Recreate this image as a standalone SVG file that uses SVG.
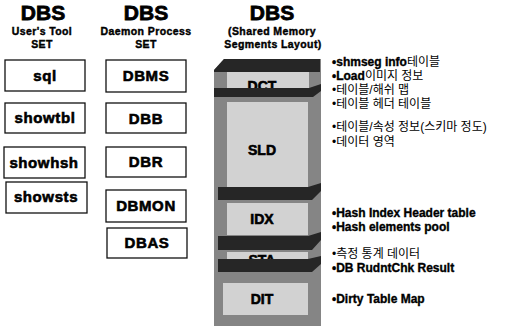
<svg xmlns="http://www.w3.org/2000/svg" width="507" height="329" viewBox="0 0 507 329">
<style>
text{font-family:"Liberation Sans","Noto Sans CJK KR",sans-serif;fill:#000}
.t{font-size:21px;font-weight:bold;text-anchor:middle;stroke:#000;stroke-width:0.8}
.s{font-size:10.5px;font-weight:bold;text-anchor:middle;stroke:#000;stroke-width:0.4;letter-spacing:0.4px}
.box{fill:#fff;stroke:#111;stroke-width:1.3}
.bl{font-size:15px;font-weight:bold;text-anchor:middle;stroke:#000;stroke-width:0.6;letter-spacing:0.6px}
.frame{fill:#858585}
.dark{fill:#262626}
.light{fill:#d2d2d2}
.seg{font-size:14px;font-weight:bold;text-anchor:middle;stroke:#000;stroke-width:0.6}
.r{font-size:12px}
.b{font-weight:bold;stroke:#000;stroke-width:0.35}
</style>
<g id="titles">
<text class="t" x="43" y="20">DBS</text>
<text class="s" x="42" y="35">User's Tool</text>
<text class="s" x="42" y="48">SET</text>
<text class="t" x="146" y="20">DBS</text>
<text class="s" x="146" y="35">Daemon Process</text>
<text class="s" x="146" y="48">SET</text>
<text class="t" x="272" y="20">DBS</text>
<text class="s" x="272" y="35">(Shared Memory</text>
<text class="s" x="273" y="48">Segments Layout)</text>
</g>
<g id="sql"><rect class="box" x="5" y="60" width="80" height="31"/><text class="bl" x="45" y="81">sql</text></g>
<g id="showtbl"><rect class="box" x="5" y="103" width="80" height="30"/><text class="bl" x="45" y="123">showtbl</text></g>
<g id="showhsh"><rect class="box" x="4" y="147" width="81" height="31"/><text class="bl" x="44" y="168">showhsh</text></g>
<g id="showsts"><rect class="box" x="6" y="182" width="81" height="31"/><text class="bl" x="46" y="202">showsts</text></g>
<g id="DBMS"><rect class="box" x="106" y="60" width="80" height="32"/><text class="bl" x="146" y="81">DBMS</text></g>
<g id="DBB"><rect class="box" x="106" y="103" width="80" height="30"/><text class="bl" x="146" y="124">DBB</text></g>
<g id="DBR"><rect class="box" x="106" y="147" width="80" height="30"/><text class="bl" x="146" y="167">DBR</text></g>
<g id="DBMON"><rect class="box" x="106" y="190" width="80" height="32"/><text class="bl" x="146" y="211">DBMON</text></g>
<g id="DBAS"><rect class="box" x="107" y="228" width="80" height="30"/><text class="bl" x="147" y="248">DBAS</text></g>
<g id="stack">
<polygon class="frame" points="224,59 321,59 321,326 214,326 214,70"/>
<polygon class="dark" points="224,59 320,59 320,72 214,72 214,70"/>
<rect class="light" x="227" y="72" width="82" height="17"/>
<text class="seg" x="262" y="91">DCT</text>
<polygon class="dark" points="214,88 309,88 321,84 321,91 313,97 214,97"/>
<rect class="light" x="227" y="102" width="81" height="85"/>
<text class="seg" x="262" y="155">SLD</text>
<polygon class="dark" points="218,187 308,187 321,183 321,191 312,200 218,200"/>
<rect class="light" x="227" y="203" width="81" height="32"/>
<text class="seg" x="262" y="224">IDX</text>
<polygon class="dark" points="218,236 308,236 321,232 321,240 312,250 218,250"/>
<rect class="light" x="227" y="252" width="81" height="7"/>
<text class="seg" x="262" y="265">STA</text>
<polygon class="dark" points="218,259 308,259 321,256 321,264 312,272 218,272"/>
<rect class="light" x="223" y="283" width="85" height="32"/>
<text class="seg" x="262" y="304">DIT</text>
</g>
<g id="notes" class="r">
<text x="332" y="66"><tspan class="b">•shmseg info</tspan>테이블</text>
<text x="332" y="80"><tspan class="b">•Load</tspan>이미지 정보</text>
<text x="332" y="94">•테이블/해쉬 맵</text>
<text x="332" y="108">•테이블 헤더 테이블</text>
<text x="332" y="131">•테이블/속성 정보(스키마 정도)</text>
<text x="332" y="146">•데이터 영역</text>
<text x="332" y="217" class="b">•Hash Index Header table</text>
<text x="332" y="231" class="b">•Hash elements pool</text>
<text x="332" y="258">•측정 통계 데이터</text>
<text x="332" y="272" class="b">•DB RudntChk Result</text>
<text x="332" y="303" class="b">•Dirty Table Map</text>
</g>
</svg>
